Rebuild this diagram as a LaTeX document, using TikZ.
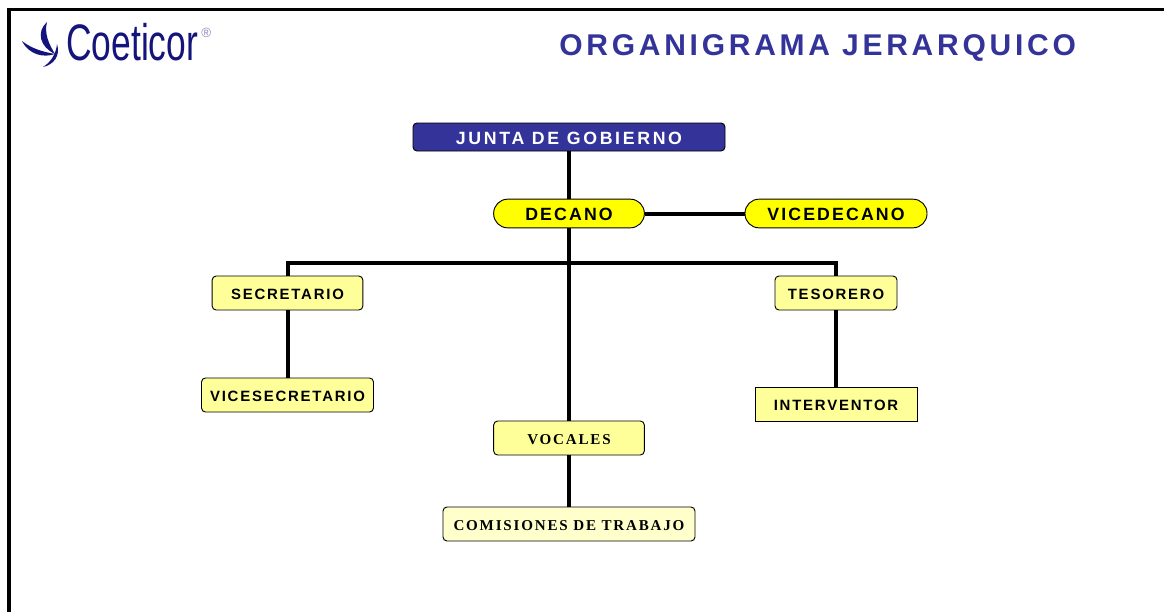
\documentclass[tikz,border=0pt]{standalone}
\usepackage{fontspec}
\setmainfont{Liberation Sans}
\newfontfamily\cargofont[LetterSpace=12]{Liberation Sans}
\newfontfamily\juntafont[LetterSpace=15]{Liberation Sans}
\newfontfamily\titulofont[LetterSpace=12.5]{Liberation Sans}
\newfontfamily\seriffont[LetterSpace=12]{Liberation Serif}
\definecolor{azul}{HTML}{333399}
\definecolor{marca}{HTML}{14147C}
\definecolor{amarillo}{HTML}{FFFF00}
\definecolor{claro}{HTML}{FFFF99}
\definecolor{palido}{HTML}{FFFFCC}

\begin{document}
\begin{tikzpicture}[
    x=0.75pt, y=-0.75pt,
    organo/.style={rectangle, draw, fill=azul, rounded corners=3pt, line width=0.7pt, minimum width=234pt, minimum height=21pt, text=white, text height=10.5pt, text depth=0pt, font=\juntafont\bfseries\fontsize{13.3}{15}\selectfont},
    direccion/.style={rectangle, draw, fill=amarillo, rounded corners=10.5pt, line width=0.7pt, minimum height=21.5pt, text height=10.5pt, text depth=0pt, font=\cargofont\bfseries\fontsize{13.3}{15}\selectfont},
    cargo/.style={rectangle, draw, fill=claro, rounded corners=3pt, line width=0.7pt, minimum height=25.5pt, text height=9.2pt, text depth=0pt, font=\cargofont\bfseries\fontsize{11.2}{13}\selectfont},
    vocal/.style={cargo, font=\seriffont\bfseries\fontsize{11.3}{13}\selectfont},
    linea/.style={line width=3pt}
]
\useasboundingbox (0,0) rectangle (1164,612);

% marco
\draw[line width=2.8pt] (1164,9.5) -- (9,9.5) -- (9,612);

% logotipo
\fill[marca] (47,22) .. controls (36,32) and (40,47) .. (55,54) .. controls (49,44) and (44,34) .. (47,22) -- cycle;
\fill[marca] (22,41) .. controls (29,55) and (44,58) .. (55,54) .. controls (44,52) and (32,49) .. (22,41) -- cycle;
\fill[marca] (43,67) .. controls (53,65) and (61,56) .. (57,44) .. controls (56,54) and (51,62) .. (43,67) -- cycle;
\node[anchor=west, inner sep=0pt, text=marca, font=\fontsize{38.5}{40}\selectfont] (logo) at (66,42) {\scalebox{0.69}[1]{Coeticor}};
\node[anchor=west, inner sep=0pt, text=marca!50, font=\fontsize{10}{11}\selectfont] (registro) at (201,33) {®};

\node[anchor=base west, inner sep=0pt, text=azul, font=\titulofont\bfseries\fontsize{22.5}{25}\selectfont] (titulo) at (559,55) {ORGANIGRAMA JERARQUICO};

\node[organo] (junta) at (569,137) {JUNTA DE GOBIERNO};
\node[direccion, minimum width=113pt, below of=junta, node distance=57.375pt] (decano) {DECANO};
\node[direccion, minimum width=136.5pt, right of=decano, node distance=200.25pt] (vicedecano) {VICEDECANO};

\node[cargo, minimum width=113pt] (secretario) at (287.5,293) {SECRETARIO};
\node[cargo, minimum width=129pt, below of=secretario, node distance=76.5pt] (vicesecretario) {VICESECRETARIO};
\node[cargo, minimum width=91.5pt] (tesorero) at (836,293) {TESORERO};
\node[cargo, minimum width=121.5pt, sharp corners, below of=tesorero, node distance=83.25pt] (interventor) {INTERVENTOR};
\node[vocal, minimum width=113pt] (vocales) at (569,438) {VOCALES};
\node[vocal, minimum width=189pt, fill=palido, below of=vocales, node distance=64.5pt] (comisiones) {COMISIONES DE TRABAJO};

\coordinate (rama) at (569,263);

\draw[linea] (junta) -- (decano);
\draw[linea] (decano) -- (vicedecano);
\draw[linea] (decano) -- (vocales);
\draw[linea] (secretario.north) |- (rama) -| (tesorero.north);
\draw[linea] (secretario) -- (vicesecretario);
\draw[linea] (tesorero) -- (interventor);
\draw[linea] (vocales) -- (comisiones);

\end{tikzpicture}
\end{document}
